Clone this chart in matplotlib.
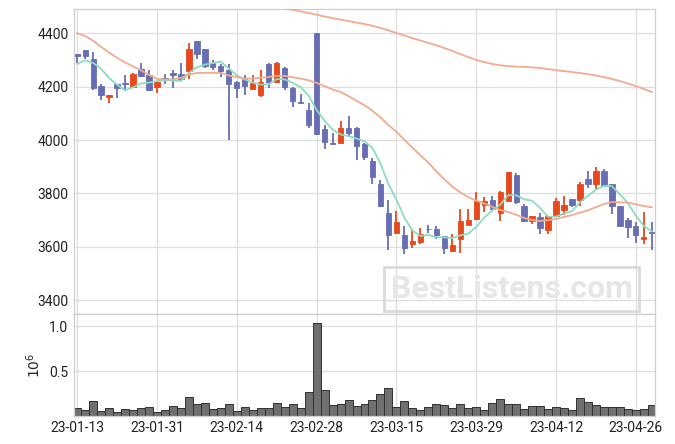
import numpy as np
import pandas as pd
import matplotlib
matplotlib.use("Agg")
import matplotlib.pyplot as plt

plt.rcParams["font.family"] = ["Roboto", "DejaVu Sans"]

# tick labels (one every 10 trading days)
tick_labels = ["23-01-13", "23-01-31", "23-02-14", "23-02-28",
               "23-03-15", "23-03-29", "23-04-12", "23-04-26"]

opens = [4322, 4337, 4305, 4202, 4163, 4211, 4215, 4197, 4265, 4242,
         4197, 4234, 4251, 4246, 4258, 4371, 4340, 4289, 4276, 4261,
         4219, 4233, 4192, 4167, 4286, 4218, 4271, 4195, 4141, 4113,
         4400, 4043, 3988, 3989, 4046, 4046, 3985, 3922, 3837, 3728,
         3650, 3644, 3612, 3616, 3667, 3668, 3639, 3584, 3629, 3682,
         3703, 3757, 3774, 3727, 3771, 3869, 3752, 3696, 3712, 3661,
         3714, 3739, 3779, 3776, 3854, 3836, 3884, 3834, 3752, 3700,
         3677, 3630, 3654]
highs = [4322, 4337, 4330, 4210, 4168, 4211, 4244, 4251, 4290, 4263,
         4222, 4248, 4261, 4289, 4362, 4372, 4342, 4301, 4286, 4286,
         4222, 4242, 4242, 4264, 4288, 4294, 4274, 4200, 4172, 4137,
         4400, 4056, 4027, 4071, 4089, 4048, 3990, 3932, 3850, 3776,
         3735, 3679, 3663, 3669, 3683, 3679, 3641, 3649, 3740, 3743,
         3806, 3786, 3789, 3809, 3882, 3877, 3761, 3716, 3727, 3716,
         3784, 3790, 3779, 3844, 3884, 3900, 3890, 3836, 3754, 3709,
         3694, 3730, 3692]
lows = [4289, 4304, 4189, 4149, 4138, 4157, 4185, 4195, 4235, 4183,
        4178, 4210, 4195, 4225, 4228, 4305, 4271, 4263, 4235, 3999,
        4157, 4170, 4187, 4163, 4194, 4214, 4187, 4124, 4137, 4046,
        4020, 3967, 3985, 3988, 4014, 3925, 3925, 3837, 3750, 3587,
        3648, 3572, 3597, 3612, 3652, 3630, 3574, 3582, 3576, 3680,
        3700, 3730, 3733, 3698, 3770, 3759, 3694, 3684, 3649, 3646,
        3712, 3718, 3749, 3751, 3821, 3815, 3827, 3721, 3677, 3631,
        3614, 3609, 3586]
closes = [4316, 4315, 4194, 4167, 4168, 4194, 4209, 4249, 4239, 4186,
          4219, 4228, 4244, 4229, 4340, 4323, 4277, 4273, 4257, 4210,
          4194, 4201, 4214, 4219, 4218, 4290, 4197, 4148, 4139, 4057,
          4023, 3992, 3986, 4046, 4027, 3978, 3938, 3862, 3752, 3643,
          3691, 3597, 3622, 3648, 3666, 3644, 3597, 3608, 3698, 3699,
          3770, 3771, 3742, 3805, 3880, 3767, 3697, 3714, 3669, 3714,
          3771, 3756, 3758, 3835, 3836, 3884, 3829, 3754, 3679, 3675,
          3645, 3638, 3651]
# volume, in 10^6
volume = [0.083, 0.064, 0.161, 0.049, 0.083, 0.038, 0.072, 0.060, 0.083, 0.094,
          0.038, 0.060, 0.105, 0.083, 0.206, 0.128, 0.139, 0.072, 0.083, 0.128,
          0.049, 0.094, 0.060, 0.083, 0.083, 0.139, 0.094, 0.128, 0.083, 0.262,
          1.034, 0.284, 0.116, 0.131, 0.176, 0.105, 0.128, 0.176, 0.239, 0.306,
          0.094, 0.161, 0.083, 0.060, 0.094, 0.128, 0.116, 0.083, 0.128, 0.083,
          0.094, 0.060, 0.139, 0.183, 0.128, 0.128, 0.072, 0.105, 0.105, 0.072,
          0.094, 0.083, 0.060, 0.194, 0.150, 0.116, 0.094, 0.094, 0.094, 0.072,
          0.060, 0.072, 0.116]

# moving averages: first values depend on earlier days
ma5_head = [4286, 4299, 4289, 4267]
ma20_head = [4400, 4390, 4372, 4349, 4328, 4308, 4291, 4276, 4261, 4244,
             4229, 4227, 4227, 4233, 4246, 4251, 4252, 4252, 4251]
ma_long = [np.nan] * 25 + [
    4505, 4493, 4488, 4482, 4476, 4470, 4463, 4457, 4451, 4446,
    4440, 4435, 4428, 4420, 4411, 4401, 4392, 4382, 4373, 4364,
    4355, 4345, 4334, 4322, 4311, 4300, 4292, 4285, 4280, 4277,
    4275, 4274, 4272, 4270, 4266, 4262, 4258, 4255, 4251, 4247,
    4242, 4236, 4229, 4221, 4212, 4202, 4191, 4180]

UP = "#e8481b"
DOWN = "#676eb4"

n = len(closes)
x = np.arange(n)
close_s = pd.Series(closes, dtype=float)
ma5 = close_s.rolling(5).mean().values
ma5[:4] = ma5_head
ma20 = close_s.rolling(20).mean().values
ma20[:19] = ma20_head

fig = plt.figure(figsize=(6.75, 4.44), dpi=100)
ax = fig.add_axes([0.1096, 0.2928, 0.8608, 0.6869])
axv = fig.add_axes([0.1096, 0.0637, 0.8608, 0.2291], sharex=ax)

for a in (ax, axv):
    a.set_axisbelow(True)
    a.grid(True, color="#dedede", lw=0.9)
    for s in a.spines.values():
        s.set_color("#cfcfcf")
        s.set_linewidth(0.9)
    a.tick_params(length=0, labelsize=10, labelcolor="#222222", pad=4)

# candles
for i in range(n):
    o, h, l, c = opens[i], highs[i], lows[i], closes[i]
    col = UP if c > o else DOWN
    ax.vlines(x[i], l, h, color=col, lw=1.3, zorder=2)
    ax.bar(x[i], max(abs(c - o), 1.5), bottom=min(o, c), width=0.66,
           color=col, edgecolor=col, lw=0.6, zorder=3)

ax.plot(x, ma5, color="#8edcc0", lw=1.3, zorder=4)
ax.plot(x, ma20, color="#f2ab8e", lw=1.3, zorder=4)
ax.plot(x, ma_long, color="#f2ab8e", lw=1.3, zorder=4)

ax.set_ylim(3348, 4491)
ax.set_yticks([3400, 3600, 3800, 4000, 4200, 4400])
ax.tick_params(axis="x", labelbottom=False)

# watermark
ax.text(0.753, 0.082, "BestListens.com", transform=ax.transAxes,
        ha="center", va="center", fontsize=23, fontweight="bold",
        color="#e6e6e6", zorder=1,
        bbox=dict(boxstyle="square,pad=0.22", fc="none", ec="#dadada", lw=2))

# volume
axv.bar(x, volume, width=1.0, color="#6f6f6f", edgecolor="#303030", lw=0.7)
axv.set_ylim(0, max(volume) * 1.1)
axv.set_yticks([0.5, 1.0])
axv.set_ylabel(r"$10^6$", fontsize=10, color="#222222")
axv.yaxis.set_label_coords(-0.054, 0.5)

axv.set_xticks(x[::10])
axv.set_xticklabels(tick_labels)
axv.set_xlim(-0.4, n - 0.6)

fig.savefig("out.png", dpi=100)
